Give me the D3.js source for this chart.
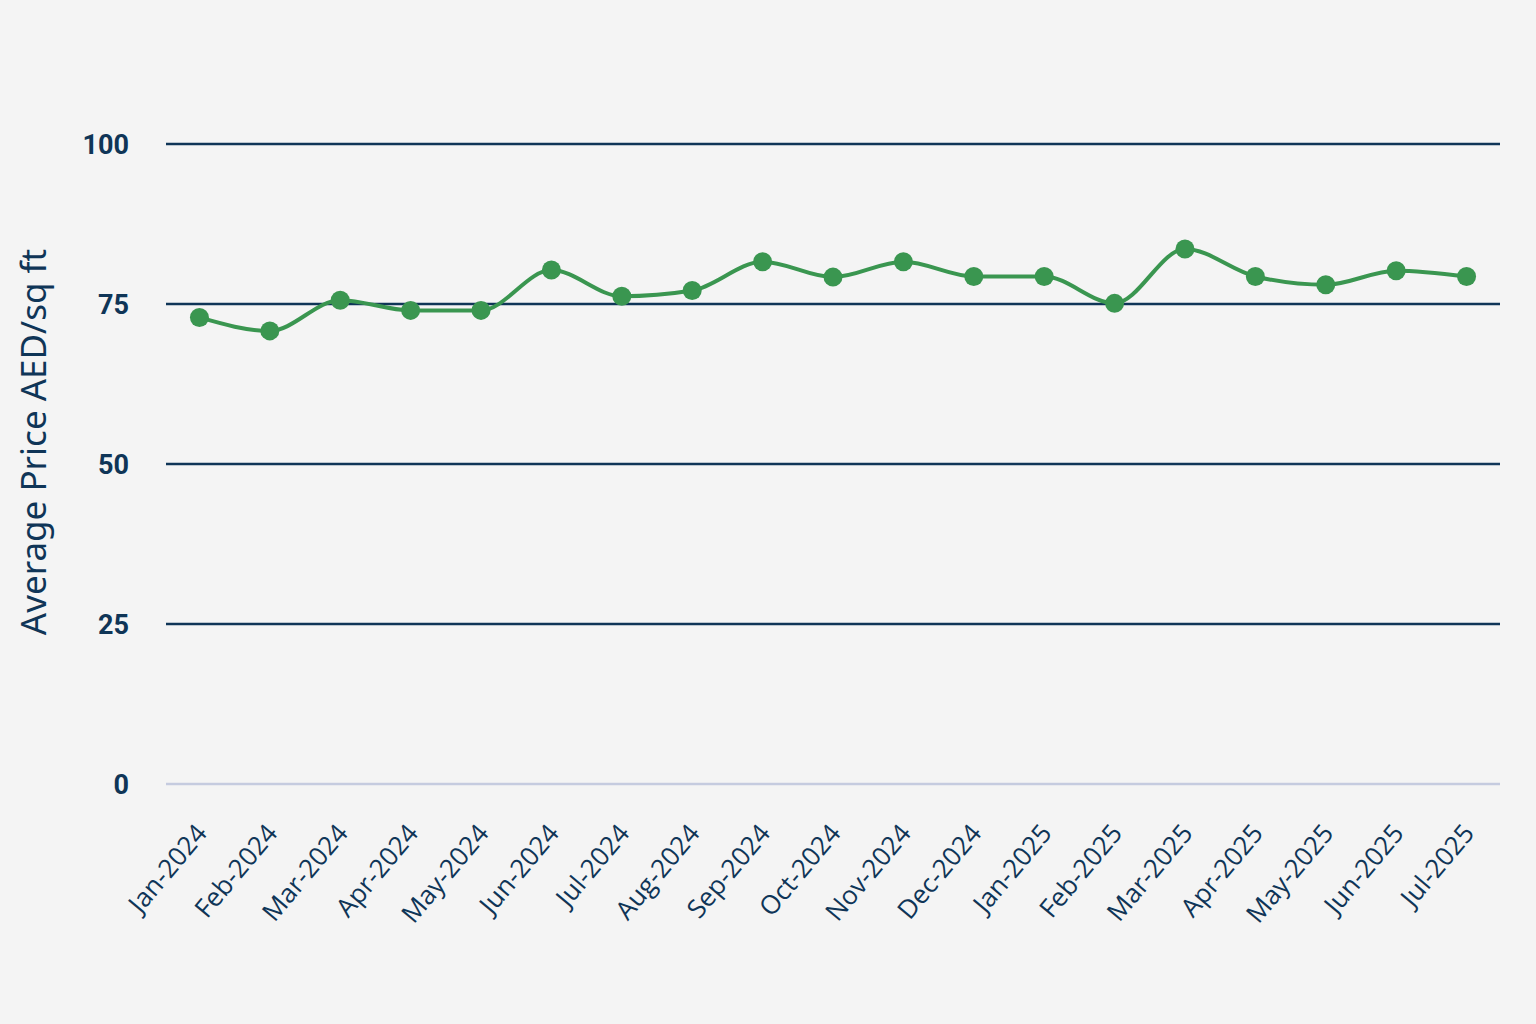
<!DOCTYPE html>
<html>
<head>
<meta charset="utf-8">
<script src="https://cdn.jsdelivr.net/npm/d3@7"></script>
<style>
  body { margin: 0; background: #f4f4f4; }
  svg { display: block; }
</style>
</head>
<body>
<script>
const months = ["Jan-2024", "Feb-2024", "Mar-2024", "Apr-2024", "May-2024", "Jun-2024",
  "Jul-2024", "Aug-2024", "Sep-2024", "Oct-2024", "Nov-2024", "Dec-2024",
  "Jan-2025", "Feb-2025", "Mar-2025", "Apr-2025", "May-2025", "Jun-2025", "Jul-2025"];
const prices = [72.9, 70.8, 75.6, 74.0, 74.0, 80.3, 76.2, 77.1, 81.6, 79.2, 81.6, 79.3,
  79.3, 75.1, 83.6, 79.3, 78.0, 80.2, 79.3];
const yTicks = [0, 25, 50, 75, 100];

const width = 1536, height = 1024;
const margin = { top: 144, right: 36, bottom: 240, left: 166 };

const main = () => {
  const svg = d3.select("body").append("svg")
    .attr("width", width).attr("height", height);

  const x = d3.scalePoint()
    .domain(months)
    .range([margin.left, width - margin.right])
    .padding(0.475);
  const y = d3.scaleLinear()
    .domain([0, 100])
    .range([height - margin.bottom, margin.top]);

  // gridlines
  svg.append("g")
    .selectAll("line")
    .data(yTicks)
    .join("line")
    .attr("x1", margin.left)
    .attr("x2", width - margin.right)
    .attr("y1", (d) => y(d))
    .attr("y2", (d) => y(d))
    .attr("stroke", (d) => (d === 0 ? "#c5cbdf" : "#0f3557"))
    .attr("stroke-width", 2.5);

  // y tick labels
  svg.append("g")
    .attr("font-family", "'Liberation Sans Narrow', 'Roboto', sans-serif")
    .attr("font-weight", "bold")
    .attr("font-size", 27)
    .attr("fill", "#0f3557")
    .selectAll("text")
    .data(yTicks)
    .join("text")
    .attr("x", 129)
    .attr("y", (d) => y(d))
    .attr("dy", "0.36em")
    .attr("text-anchor", "end")
    .text((d) => d);

  // y axis title
  svg.append("text")
    .attr("transform", `translate(46,442) rotate(-90)`)
    .attr("text-anchor", "middle")
    .attr("font-family", "'Noto Sans', sans-serif")
    .attr("font-size", 35)
    .attr("fill", "#0f3557")
    .text("Average Price AED/sq ft");

  // x tick labels
  svg.append("g")
    .attr("font-family", "'Open Sans', sans-serif")
    .attr("font-size", 26)
    .attr("fill", "#0f3557")
    .selectAll("text")
    .data(months)
    .join("text")
    .attr("transform", (d) => `translate(${x(d) + 2},${height - margin.bottom + 44}) rotate(-50)`)
    .attr("text-anchor", "end")
    .attr("dy", "0.35em")
    .text((d) => d);

  // line
  const points = months.map((m, i) => [x(m), y(prices[i])]);
  svg.append("path")
    .attr("d", d3.line().curve(d3.curveMonotoneX)(points))
    .attr("fill", "none")
    .attr("stroke", "#3a9650")
    .attr("stroke-width", 4);

  svg.append("g")
    .selectAll("circle")
    .data(points)
    .join("circle")
    .attr("cx", (d) => d[0])
    .attr("cy", (d) => d[1])
    .attr("r", 9.5)
    .attr("fill", "#3a9650");
};

document.addEventListener("DOMContentLoaded", main);
</script>
</body>
</html>
